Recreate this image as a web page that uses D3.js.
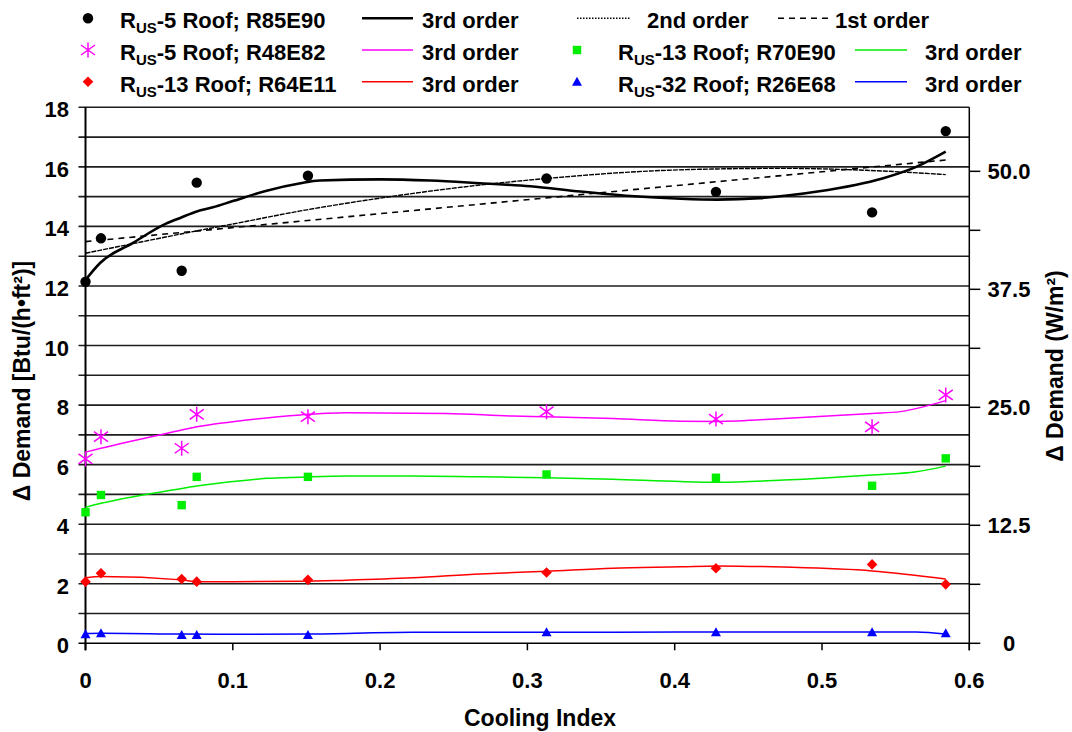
<!DOCTYPE html>
<html><head><meta charset="utf-8">
<script src="https://cdn.jsdelivr.net/npm/d3@7"></script>
<style>html,body{margin:0;padding:0;background:#fff}svg{display:block}text{font-family:"Liberation Sans",Arial,sans-serif;font-weight:bold;fill:#000}</style>
</head><body>
<svg id="c" width="1072" height="732"></svg>
<script>
// ---- data ----
const coolingIndex = [0, 0.0105, 0.0653, 0.0755, 0.151, 0.313, 0.428, 0.534, 0.584];
const r85e90 = [12.14, 13.6, 12.51, 15.47, 15.70, 15.61, 15.16, 14.47, 17.2];
const r48e82 = [6.19, 6.94, 6.55, 7.69, 7.61, 7.78, 7.53, 7.27, 8.34];
const r70e90 = [4.40, 4.98, 4.64, 5.59, 5.59, 5.67, 5.56, 5.29, 6.21];
const r64e11 = [2.07, 2.35, 2.16, 2.07, 2.13, 2.38, 2.52, 2.65, 1.98];
const r26e68 = [0.30, 0.34, 0.28, 0.28, 0.28, 0.37, 0.37, 0.37, 0.34];

// trend lines
const k3X = [0, 0.0099, 0.032, 0.055, 0.065, 0.0755, 0.0865, 0.100, 0.123, 0.146, 0.159, 0.200, 0.234, 0.268, 0.302, 0.336, 0.370, 0.404, 0.429, 0.458, 0.497, 0.541, 0.564, 0.584];
const k3Y = [12.2, 12.77, 13.44, 14.1, 14.3, 14.5, 14.64, 14.85, 15.2, 15.45, 15.54, 15.58, 15.54, 15.45, 15.35, 15.17, 15.02, 14.93, 14.9, 14.95, 15.17, 15.61, 16.0, 16.51];
const k2X = [0, 0.032, 0.0755, 0.100, 0.146, 0.200, 0.268, 0.313, 0.383, 0.429, 0.474, 0.541, 0.584];
const k2Y = [13.1, 13.42, 13.85, 14.08, 14.52, 14.95, 15.39, 15.61, 15.86, 15.93, 15.95, 15.86, 15.74];
const k1X = [0, 0.584];
const k1Y = [13.49, 16.23];
const m3X = [0, 0.0105, 0.0653, 0.0755, 0.100, 0.146, 0.177, 0.245, 0.290, 0.313, 0.358, 0.404, 0.429, 0.474, 0.534, 0.553, 0.584];
const m3Y = [6.42, 6.55, 7.16, 7.27, 7.44, 7.67, 7.74, 7.72, 7.63, 7.61, 7.55, 7.46, 7.45, 7.55, 7.72, 7.78, 8.15];
const g3X = [0, 0.0105, 0.0653, 0.0755, 0.100, 0.123, 0.146, 0.177, 0.222, 0.268, 0.313, 0.358, 0.404, 0.429, 0.474, 0.534, 0.564, 0.584];
const g3Y = [4.57, 4.70, 5.20, 5.28, 5.43, 5.54, 5.58, 5.62, 5.62, 5.59, 5.56, 5.51, 5.43, 5.41, 5.48, 5.65, 5.76, 5.95];
const r3X = [0, 0.0105, 0.0653, 0.0755, 0.100, 0.146, 0.177, 0.222, 0.268, 0.313, 0.358, 0.404, 0.429, 0.474, 0.534, 0.584];
const r3Y = [2.2, 2.24, 2.13, 2.07, 2.07, 2.08, 2.12, 2.2, 2.33, 2.42, 2.52, 2.57, 2.6, 2.56, 2.43, 2.16];
const b3X = [0, 0.0105, 0.0653, 0.100, 0.151, 0.222, 0.313, 0.404, 0.474, 0.564, 0.584];
const b3Y = [0.33, 0.34, 0.31, 0.30, 0.31, 0.37, 0.37, 0.38, 0.38, 0.38, 0.31];

const xTicks = [0, 0.1, 0.2, 0.3, 0.4, 0.5, 0.6];
const xTickLabels = ["0", "0.1", "0.2", "0.3", "0.4", "0.5", "0.6"];
const yTicks = [0, 2, 4, 6, 8, 10, 12, 14, 16, 18];
const yMinor = d3.range(0, 19, 1);
const y2Ticks = [0, 12.5, 25, 37.5, 50];
const y2TickLabels = ["0", "12.5", "25.0", "37.5", "50.0"];
const y2Minor = [0, 6.25, 12.5, 18.75, 25, 31.25, 37.5, 43.75, 50];
const btuToW = 3.1546;

// ---- layout ----
const svg = d3.select("#c");
const L = 85.5, R = 969.3, T = 107.3, B = 643.3;
const x = d3.scaleLinear().domain([0, 0.6]).range([L, R]);
const y = d3.scaleLinear().domain([0, 18]).range([B, T]);
const y2 = d3.scaleLinear().domain([0, 18 * btuToW]).range([B, T]);

svg.append("g").selectAll("line").data(yMinor.filter(v => v > 0)).join("line")
  .attr("x1", L - 7).attr("x2", R).attr("y1", d => y(d)).attr("y2", d => y(d))
  .attr("stroke", "#1e1e1e").attr("stroke-width", 1.6);
svg.append("line").attr("x1", L - 7).attr("x2", R).attr("y1", B).attr("y2", B).attr("stroke", "#000").attr("stroke-width", 1.6);
svg.append("line").attr("x1", L).attr("x2", L).attr("y1", T).attr("y2", B + 7).attr("stroke", "#000").attr("stroke-width", 2);
svg.append("line").attr("x1", R).attr("x2", R).attr("y1", T).attr("y2", B + 7).attr("stroke", "#000").attr("stroke-width", 1.5);
svg.append("g").selectAll("line").data(xTicks).join("line")
  .attr("x1", d => x(d)).attr("x2", d => x(d)).attr("y1", B).attr("y2", B + 7)
  .attr("stroke", "#000").attr("stroke-width", 1.5);
svg.append("g").selectAll("text").data(xTicks).join("text")
  .attr("x", d => x(d)).attr("y", 688).attr("text-anchor", "middle").attr("font-size", 22)
  .text((d, i) => xTickLabels[i]);
svg.append("g").selectAll("text").data(yTicks).join("text")
  .attr("x", 69).attr("y", d => y(d) + 10).attr("text-anchor", "end").attr("font-size", 22)
  .text(d => d);
svg.append("g").selectAll("line").data(y2Minor).join("line")
  .attr("x1", R).attr("x2", R + 11).attr("y1", d => y2(d)).attr("y2", d => y2(d))
  .attr("stroke", "#000").attr("stroke-width", 1.5);
svg.append("g").selectAll("text").data(y2Ticks).join("text")
  .attr("x", 1009).attr("y", d => y2(d) + 8).attr("text-anchor", "middle").attr("font-size", 22)
  .text((d, i) => y2TickLabels[i]);

svg.append("text").attr("x", 540).attr("y", 726).attr("text-anchor", "middle").attr("font-size", 23).text("Cooling Index");
svg.append("text").attr("transform", "translate(30,381) rotate(-90)").attr("text-anchor", "middle").attr("font-size", 23).text("Δ Demand [Btu/(h•ft²)]");
svg.append("text").attr("transform", "translate(1063,366) rotate(-90)").attr("text-anchor", "middle").attr("font-size", 23).text("Δ Demand (W/m²)");

// ---- fit lines ----
const line = d3.line().x(d => x(d[0])).y(d => y(d[1])).curve(d3.curveMonotoneX);
function drawFit(xs, ys, color, w, dash) {
  svg.append("path").datum(xs.map((v, i) => [v, ys[i]]))
    .attr("d", line).attr("fill", "none").attr("stroke", color).attr("stroke-width", w)
    .attr("stroke-dasharray", dash || null);
}
drawFit(b3X, b3Y, "#0000ff", 1.5);
drawFit(r3X, r3Y, "#ff0000", 1.5);
drawFit(g3X, g3Y, "#00ee00", 1.5);
drawFit(m3X, m3Y, "#ff00ff", 1.5);
drawFit(k1X, k1Y, "#000", 1.6, "6,5");
drawFit(k2X, k2Y, "#000", 1.4, "5,1");
drawFit(k3X, k3Y, "#000", 2.6);

// ---- markers ----
const sym = {
  circle: (g) => g.append("circle").attr("r", 5.2).attr("fill", "#000"),
  star: (g) => g.append("path").attr("d", "M0,-7.5L0,7.5M-7,-5L7,5M-7,5L7,-5").attr("stroke", "#ff00ff").attr("stroke-width", 1.5).attr("fill", "none"),
  square: (g) => g.append("rect").attr("x", -4.2).attr("y", -4.2).attr("width", 8.4).attr("height", 8.4).attr("fill", "#00ee00"),
  diamond: (g) => g.append("path").attr("d", "M0,-5.3L5.3,0L0,5.3L-5.3,0Z").attr("fill", "#ff0000"),
  triangle: (g) => g.append("path").attr("d", "M0,-5L5,4L-5,4Z").attr("fill", "#0000ff")
};
function drawPts(vals, kind) {
  const g = svg.append("g");
  vals.forEach((v, i) => {
    const m = g.append("g").attr("transform", `translate(${x(coolingIndex[i])},${y(v)})`);
    sym[kind](m);
  });
}
drawPts(r85e90, "circle");
drawPts(r48e82, "star");
drawPts(r70e90, "square");
drawPts(r64e11, "diamond");
drawPts(r26e68, "triangle");

// ---- legend ----
const legendSeries = [
  {kind: "circle", label: "-5 Roof; R85E90", color: "#000", mx: 88, row: 0},
  {kind: "star", label: "-5 Roof; R48E82", color: "#ff00ff", mx: 88, row: 1},
  {kind: "diamond", label: "-13 Roof; R64E11", color: "#ff0000", mx: 88, row: 2},
  {kind: "square", label: "-13 Roof; R70E90", color: "#00ee00", mx: 577, row: 1},
  {kind: "triangle", label: "-32 Roof; R26E68", color: "#0000ff", mx: 577, row: 2}
];
const rowY = [18.3, 50, 81.7];
legendSeries.forEach(s => {
  const cy = rowY[s.row];
  const m = svg.append("g").attr("transform", `translate(${s.mx},${cy})`);
  sym[s.kind](m);
  const tx = s.mx === 88 ? 120 : 618;
  const t = svg.append("text").attr("x", tx).attr("y", cy + 10).attr("font-size", 22);
  t.append("tspan").text("R");
  t.append("tspan").attr("font-size", 15).attr("dy", 5).text("US");
  t.append("tspan").attr("dy", -5).text(s.label);
  const lx1 = s.mx === 88 ? 362 : 855, lx2 = s.mx === 88 ? 413 : 907;
  svg.append("line").attr("x1", lx1).attr("x2", lx2).attr("y1", cy).attr("y2", cy)
    .attr("stroke", s.color).attr("stroke-width", s.kind === "circle" ? 2.6 : 1.5);
  svg.append("text").attr("x", s.mx === 88 ? 422 : 925).attr("y", cy + 10).attr("font-size", 22).text("3rd order");
});
svg.append("line").attr("x1", 577).attr("x2", 630).attr("y1", 18.3).attr("y2", 18.3).attr("stroke", "#000").attr("stroke-width", 1.4).attr("stroke-dasharray", "1.5,1.5");
svg.append("text").attr("x", 647).attr("y", 28.3).attr("font-size", 22).text("2nd order");
svg.append("line").attr("x1", 778).attr("x2", 832).attr("y1", 18.3).attr("y2", 18.3).attr("stroke", "#000").attr("stroke-width", 1.6).attr("stroke-dasharray", "6,5");
svg.append("text").attr("x", 835).attr("y", 28.3).attr("font-size", 22).text("1st order");
</script>
</body></html>
